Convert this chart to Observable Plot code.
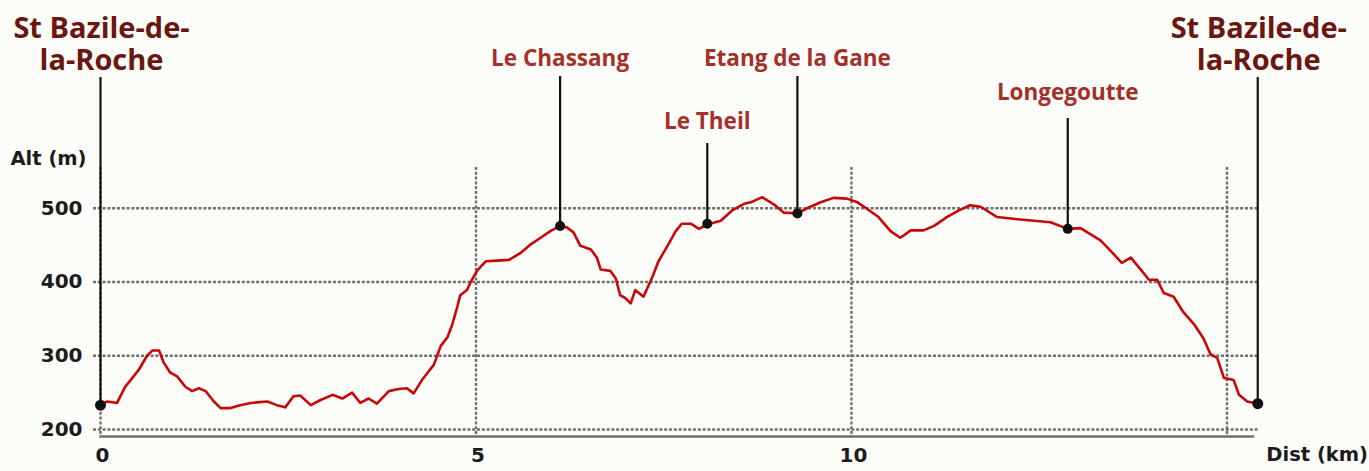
<!DOCTYPE html>
<html>
<head>
<meta charset="utf-8">
<script src="https://cdn.jsdelivr.net/npm/d3@7"></script>
<script src="https://cdn.jsdelivr.net/npm/@observablehq/plot@0.6"></script>
<style>
  html, body { margin: 0; padding: 0; background: #fcfcf9; }
  #chart svg { display: block; }
</style>
</head>
<body>
<div id="chart"></div>
<script>
// Elevation profile (distance km, altitude m)
const km = [0, 0.09, 0.22, 0.33, 0.44, 0.51, 0.62, 0.69, 0.78, 0.84, 0.93, 1.02, 1.13, 1.22, 1.31, 1.40, 1.51, 1.60, 1.73, 1.86, 2.00, 2.22, 2.35, 2.46, 2.57, 2.66,
  2.80, 2.93, 3.09, 3.22, 3.35, 3.46, 3.57, 3.68, 3.84, 3.97, 4.08, 4.17, 4.28, 4.44, 4.53, 4.62, 4.68, 4.75, 4.79, 4.88, 4.93, 5.02, 5.13, 5.28, 5.44, 5.59, 5.73, 5.86, 5.99, 6.12,
  6.21, 6.30, 6.39, 6.53, 6.61, 6.66, 6.79, 6.86, 6.92, 6.99, 7.06, 7.12, 7.23, 7.35, 7.43, 7.55, 7.66, 7.74, 7.86, 7.97, 8.08, 8.26, 8.41, 8.57, 8.66, 8.81, 8.97, 9.10, 9.28,
  9.43, 9.59, 9.76, 9.94, 10.08, 10.21, 10.36, 10.52, 10.65, 10.79, 10.96, 11.10, 11.27, 11.43, 11.58, 11.72, 11.94, 12.21, 12.43, 12.65, 12.88, 13.05, 13.18, 13.32, 13.47, 13.60,
  13.72, 13.85, 13.96, 14.07, 14.16, 14.29, 14.42, 14.56, 14.69, 14.78, 14.87, 14.96, 15.09, 15.16, 15.27, 15.41];
const alt = [233, 238, 236, 258, 272, 281, 300, 307, 307, 291, 277, 272, 258, 252, 256, 252, 238, 229, 229, 233, 236, 238, 233, 230, 245, 246,
  233, 240, 247, 242, 250, 236, 242, 235, 252, 255, 256, 249, 267, 288, 313, 325, 341, 366, 382, 389, 400, 416, 428, 429, 430, 439, 451, 460, 469, 476,
  474, 467, 449, 444, 433, 417, 415, 405, 382, 378, 371, 389, 380, 407, 428, 449, 469, 479, 479, 472, 478, 483, 497, 506, 508, 515, 505, 494, 493,
  501, 508, 514, 513, 508, 499, 488, 469, 460, 470, 470, 476, 488, 497, 504, 502, 488, 485, 483, 481, 472, 473, 465, 456, 440, 426,
  433, 417, 403, 403, 385, 380, 359, 343, 323, 302, 297, 270, 267, 247, 238, 235];

// Places along the route
const placeNames = ["Le Chassang", "Le Theil", "Etang de la Gane", "Longegoutte"];
const placeKm = [6.12, 8.08, 9.28, 12.88];
const placeAlt = [476, 479, 493, 472];
const placeLevel = [0, 2, 0, 1];

const townLine1 = ["St Bazile-de-", "St Bazile-de-"];
const townLine2 = ["la-Roche", "la-Roche"];
const townKm = [0, 15.41];
const townAlt = [233, 235];

const yTicks = [200, 300, 400, 500];
const xTicks = [0, 5, 10];
const xGrid = [0, 5, 10, 15];

const profile = km.map((k, i) => ({km: k, alt: alt[i]}));
const places = placeNames.map((n, i) => ({name: n, km: placeKm[i], alt: placeAlt[i], level: placeLevel[i]}));
const towns = townKm.map((k, i) => ({l1: townLine1[i], l2: townLine2[i], km: k, alt: townAlt[i]}));

// layout
const W = 1369, H = 471;
const marginTop = 167, marginBottom = 35, marginLeft = 100, marginRight = W - 1256.5;
const yDomain = [190.5, 555.2];
const yPix = d3.scaleLinear(yDomain, [H - marginBottom, marginTop]);
// pixel rows of label leaders and label baselines
const levels = [
  {text: -102, top: 76},
  {text: -68, top: 118},
  {text: -39, top: 143}
];
const townTop = 77;

const axisFont = "'DejaVu Sans', sans-serif";
const labelFont = "'Open Sans', sans-serif";
const gridStyle = {stroke: "#6f6f6f", strokeWidth: 2.4, strokeDasharray: "3,1.8"};
const townStyle = {fontSize: 29, fontWeight: 700, fill: "#6b1610", fontFamily: labelFont, lineAnchor: "bottom", frameAnchor: "top", dx: 1};

const marks = [
  Plot.ruleX(xGrid, {x: d => d, ...gridStyle}),
  Plot.ruleY(yTicks, {y: d => d, ...gridStyle, insetLeft: -7, insetRight: -1}),
  Plot.frame({anchor: "bottom", ...gridStyle, insetRight: 4}),
  Plot.line(profile, {x: "km", y: "alt", stroke: "#c80808", strokeWidth: 2.6, strokeLinejoin: "round"}),
  Plot.text(yTicks, {x: 0, y: d => d, text: d => String(d), textAnchor: "end", dx: -18, fontSize: 20, fontWeight: 700, fill: "#1c1c1c", fontFamily: axisFont}),
  Plot.text(xTicks, {x: d => d, frameAnchor: "bottom", text: d => String(d), dy: 25, dx: 2, fontSize: 20, fontWeight: 700, fill: "#1c1c1c", fontFamily: axisFont}),
  Plot.text(["Dist (km)"], {frameAnchor: "bottom-right", text: d => d, dy: 24, dx: 111, textAnchor: "end", fontSize: 19.5, fontWeight: 700, fill: "#1c1c1c", fontFamily: axisFont}),
  Plot.text(["Alt (m)"], {frameAnchor: "top-left", text: d => d, dx: -90, dy: -16, textAnchor: "start", fontSize: 19.5, fontWeight: 700, fill: "#1c1c1c", fontFamily: axisFont})
];

levels.forEach((lv, li) => {
  const sub = places.filter(p => p.level === li);
  marks.push(Plot.ruleX(sub, {x: "km", y1: "alt", y2: () => yPix.invert(lv.top), stroke: "#111", strokeWidth: 2.2}));
  marks.push(Plot.text(sub, {x: "km", frameAnchor: "top", text: "name", dy: lv.text, lineAnchor: "bottom", fontSize: 22.5, fontWeight: 700, fill: "#a3302b", fontFamily: labelFont}));
});
marks.push(Plot.ruleX(towns, {x: "km", y1: "alt", y2: () => yPix.invert(townTop), stroke: "#111", strokeWidth: 2.2}));
marks.push(Plot.text(towns, {x: "km", text: "l1", dy: -130, ...townStyle}));
marks.push(Plot.text(towns, {x: "km", text: "l2", dy: -98, ...townStyle}));
marks.push(Plot.dot(places, {x: "km", y: "alt", r: 5, fill: "#111"}));
marks.push(Plot.dot(towns, {x: "km", y: "alt", r: 5.5, fill: "#111"}));

const chart = Plot.plot({
  width: W,
  height: H,
  marginTop,
  marginBottom,
  marginLeft,
  marginRight,
  style: {background: "transparent", overflow: "visible"},
  x: {domain: [0, 15.4], axis: null},
  y: {domain: yDomain, axis: null},
  marks
});
document.getElementById("chart").appendChild(chart);
</script>
</body>
</html>
